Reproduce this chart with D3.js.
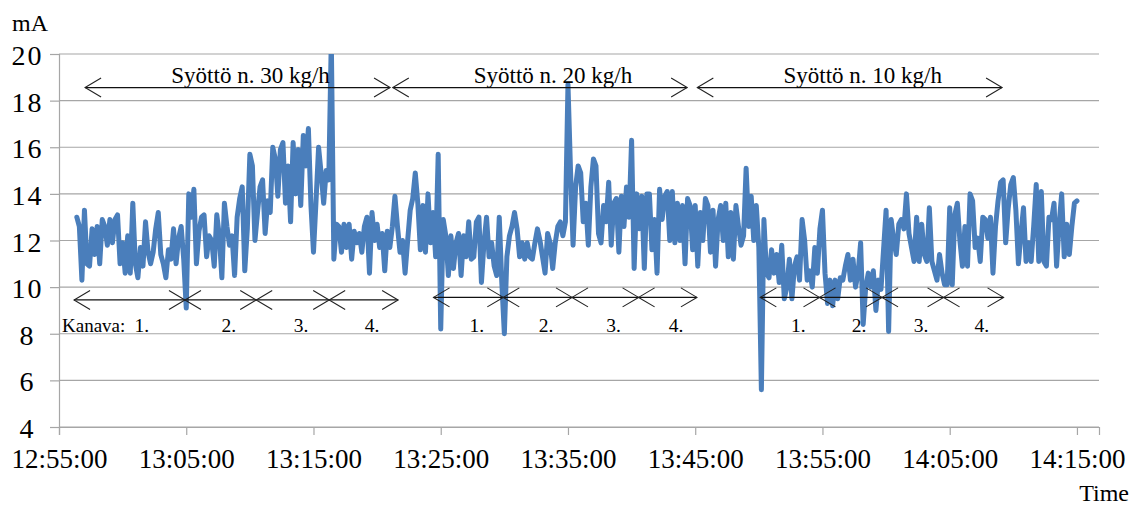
<!DOCTYPE html>
<html>
<head>
<meta charset="utf-8">
<script src="https://cdn.jsdelivr.net/npm/d3@7"></script>
<style>
  body { margin: 0; background: #fff; }
  svg { display: block; }
  text { font-family: "Liberation Serif", "Times New Roman", serif; fill: #000; }
</style>
</head>
<body>
<svg id="chart" width="1138" height="506"></svg>
<script>
// Logged sensor current (mA), one sample every 12 s
const sampleStart = "12:56:24";
const sampleStepSeconds = 12;
const currentMA = [
  // 12:56 - 13:09
  13.0, 12.6, 10.3, 13.3, 11.0, 10.9, 12.5, 11.4, 12.6, 11.0,
  12.9, 12.6, 11.8, 12.9, 11.9, 12.9, 13.1, 11.0, 11.9, 10.6,
  12.2, 10.6, 13.6, 11.0, 10.4, 11.7, 10.9, 12.8, 11.5, 11.0,
  11.5, 12.5, 13.2, 11.4, 11.0, 10.4, 11.6, 11.2, 12.5, 11.0,
  12.1, 12.6, 11.2, 9.1, 14.0, 13.0, 14.2, 11.0, 12.4, 13.0,
  13.1, 11.3, 12.2, 12.0, 10.9, 13.1, 12.2, 10.4, 13.6, 12.6,
  11.8,
  // 13:08 - 13:22
  12.2, 10.5, 13.0, 13.8, 14.3, 10.7, 12.5, 15.7, 15.2, 12.0,
  13.2, 14.3, 14.6, 12.3, 13.7, 13.2, 16.0, 15.5, 13.9, 15.9,
  16.2, 13.6, 15.2, 12.8, 16.2, 14.0, 15.9, 13.5, 16.5, 15.2,
  16.8, 13.5, 11.5, 13.7, 16.0, 14.9, 13.6, 15.0, 14.6, 20.6,
  11.2, 12.7, 12.6, 11.5, 12.7, 11.7, 12.7, 11.2, 12.4, 11.9,
  12.3, 11.5, 12.6, 13.0, 10.6, 13.2, 12.0, 12.7, 11.7, 12.3,
  10.7, 12.4, 11.7, 12.6, 13.9, 12.6, 11.5, 12.0,
  // 13:22 - 13:35
  10.6, 12.0, 13.3, 13.8, 14.9, 13.6, 11.6, 13.5, 11.5, 14.0,
  11.9, 13.2, 11.3, 15.7, 8.2, 12.9, 12.2, 10.5, 12.2, 10.8,
  11.9, 12.3, 10.5, 12.2, 11.3, 12.8, 11.2, 11.3, 12.8, 13.0,
  10.2, 11.9, 13.0, 11.3, 11.9, 10.9, 10.5, 13.0, 10.2, 8.0,
  11.3, 12.2, 12.6, 13.2, 12.5, 11.3, 11.9, 11.2, 11.9, 11.3,
  11.2, 11.9, 12.5, 12.0, 11.3, 10.6, 12.3, 11.9, 10.8, 11.9,
  12.6, 12.8, 12.2, 12.8, 18.7, 15.0,
  // 13:35 - 13:49
  11.8, 14.3, 15.2, 14.9, 12.8, 13.6, 11.8, 14.3, 15.5, 15.2,
  12.3, 11.9, 13.5, 12.8, 14.5, 11.8, 13.6, 13.8, 11.5, 13.9,
  12.6, 14.3, 13.0, 16.3, 10.8, 14.0, 12.5, 13.9, 10.8, 14.0,
  14.0, 11.6, 12.9, 10.6, 14.2, 12.9, 13.9, 14.1, 12.0, 14.1,
  11.9, 13.6, 12.0, 13.5, 11.0, 13.8, 13.5, 11.6, 13.5, 10.9,
  13.2, 12.0, 13.8, 13.5, 11.5, 13.3, 10.9, 12.9, 13.5, 12.0,
  13.6, 11.3, 13.2, 11.2, 13.5, 12.6, 11.8,
  // 13:49 - 14:02
  12.2, 15.1, 12.6, 13.9, 12.0, 13.5, 11.7, 5.6,
  12.9, 10.6, 10.4, 11.6, 10.6, 11.4, 10.2, 11.8, 9.5, 10.0,
  11.2, 9.5, 10.9, 11.3, 10.3, 12.9, 12.0, 10.3, 10.7, 10.0,
  11.7, 10.6, 12.5, 13.3, 10.6, 9.3, 10.3, 9.2, 10.3, 9.5,
  10.4, 10.3, 10.9, 11.4, 10.3, 11.2, 10.0, 10.6, 11.9, 8.4,
  10.0, 10.6, 10.0, 10.7, 9.0, 10.3, 9.9, 11.6, 13.3, 8.1,
  12.9, 12.0, 11.4, 12.7, 12.9, 12.5, 14.0, 12.3, 11.7,
  // 14:02 - 14:15
  11.1, 13.0, 11.1, 12.7, 11.4, 11.1, 13.4, 11.1, 10.7, 10.3,
  11.4, 10.6, 10.1, 10.1, 13.4, 10.1, 13.1, 13.6, 12.0, 10.9,
  12.6, 10.9, 14.0, 13.7, 11.7, 12.1, 11.1, 13.0, 12.9, 12.1,
  13.0, 10.6, 12.6, 13.7, 14.5, 14.6, 11.9, 13.4, 14.4, 14.7,
  13.3, 11.0, 12.3, 13.4, 11.1, 11.9, 11.1, 12.6, 14.4, 11.1,
  14.1, 11.1, 10.9, 13.0, 12.9, 13.6, 10.9, 12.7, 14.0, 11.3,
  12.7, 11.4, 12.6, 13.6, 13.7
];

const yTicks = [4, 6, 8, 10, 12, 14, 16, 18, 20];
const xTickLabels = ["12:55:00", "13:05:00", "13:15:00", "13:25:00", "13:35:00",
                     "13:45:00", "13:55:00", "14:05:00", "14:15:00"];
const axisEnd = "14:16:44";

// Feed-rate periods
const feedLabels = ["Syöttö n. 30 kg/h", "Syöttö n. 20 kg/h", "Syöttö n. 10 kg/h"];
const feedStarts = ["12:57:03", "13:21:14", "13:45:10"];
const feedEnds   = ["13:21:01", "13:44:22", "14:09:07"];

// Channel periods within each feed rate (boundaries)
const channelNames = ["1.", "2.", "3.", "4."];
const channelBounds = [
  ["12:56:11", "13:04:54", "13:10:30", "13:16:14", "13:21:39"],
  ["13:24:26", "13:29:55", "13:35:19", "13:40:33", "13:45:08"],
  ["13:50:07", "13:54:46", "13:59:41", "14:04:31", "14:09:14"]
];

const serif = "'Liberation Serif', 'Times New Roman', serif";
const parseTime = d3.timeParse("%H:%M:%S");
const svg = d3.select("#chart");

const plotLeft = 59, plotRight = 1099, plotTop = 54, plotBottom = 427;
const x = d3.scaleTime()
  .domain([parseTime(xTickLabels[0]), parseTime(axisEnd)])
  .range([plotLeft, plotRight]);
const y = d3.scaleLinear().domain([4, 20]).range([plotBottom, plotTop]);

const gridColor = "#a6a6a6";

// horizontal gridlines
svg.append("g")
  .selectAll("line")
  .data(yTicks)
  .join("line")
  .attr("x1", plotLeft).attr("x2", plotRight)
  .attr("y1", d => y(d)).attr("y2", d => y(d))
  .attr("stroke", gridColor).attr("stroke-width", 1.2);

// y axis
const yAxis = svg.append("g")
  .attr("transform", `translate(${plotLeft},0)`)
  .call(d3.axisLeft(y).tickValues(yTicks).tickSize(9).tickFormat(d3.format("d")))
  .attr("font-family", serif)
  .attr("font-size", 28);
yAxis.select(".domain").attr("stroke", gridColor).attr("stroke-width", 1.2);
yAxis.selectAll(".tick line").attr("stroke", gridColor).attr("stroke-width", 1.2);
yAxis.selectAll(".tick text")
  .attr("x", -31.5).attr("dy", null).attr("y", 10.5)
  .attr("text-anchor", "middle")
  .attr("fill", "#000")
  .style("letter-spacing", "2px");

// x axis
const xAxis = svg.append("g")
  .attr("transform", `translate(0,${plotBottom})`)
  .call(d3.axisBottom(x)
    .tickValues(xTickLabels.map(parseTime))
    .tickSize(8)
    .tickFormat(d3.timeFormat("%H:%M:%S")))
  .attr("font-family", serif)
  .attr("font-size", 27);
xAxis.select(".domain").attr("stroke", gridColor).attr("stroke-width", 1.2);
xAxis.selectAll(".tick line").attr("stroke", gridColor).attr("stroke-width", 1.2);
xAxis.selectAll(".tick text")
  .attr("y", 41).attr("dy", null)
  .attr("fill", "#000");

// measured series
const t0 = parseTime(sampleStart);
const series = currentMA.map((v, i) => ({ t: new Date(t0.getTime() + i * sampleStepSeconds * 1000), v }));

svg.append("clipPath").attr("id", "plotClip")
  .append("rect").attr("x", plotLeft).attr("y", plotTop)
  .attr("width", plotRight - plotLeft).attr("height", plotBottom - plotTop);

svg.append("path")
  .datum(series)
  .attr("clip-path", "url(#plotClip)")
  .attr("fill", "none")
  .attr("stroke", "#4a7ebb")
  .attr("stroke-width", 5)
  .attr("stroke-linejoin", "round")
  .attr("stroke-linecap", "round")
  .attr("d", d3.line().x(d => x(d.t)).y(d => y(d.v)));

// double-headed arrow helper
const notes = svg.append("g");
function arrow(x1, x2, yy) {
  const L = 16, b = 9.5;
  notes.append("line")
    .attr("x1", x1).attr("x2", x2).attr("y1", yy).attr("y2", yy)
    .attr("stroke", "#111").attr("stroke-width", 1.3);
  notes.append("path")
    .attr("d", `M${x1 + L},${yy - b}L${x1},${yy}L${x1 + L},${yy + b}` +
               `M${x2 - L},${yy - b}L${x2},${yy}L${x2 - L},${yy + b}`)
    .attr("fill", "none").attr("stroke", "#222").attr("stroke-width", 1.1);
}

// feed-rate arrows
const feedY = y(18.56);
feedLabels.forEach((label, i) => {
  const x1 = x(parseTime(feedStarts[i])), x2 = x(parseTime(feedEnds[i]));
  arrow(x1, x2, feedY);
  notes.append("text")
    .attr("x", (x1 + x2) / 2 + 13).attr("y", feedY - 4.5)
    .attr("text-anchor", "middle")
    .style("font-size", "23px")
    .text(label);
});

// channel arrows
const channelY = [y(9.45), y(9.56), y(9.56)];
channelBounds.forEach((bounds, g) => {
  for (let k = 0; k < channelNames.length; k++) {
    const x1 = x(parseTime(bounds[k])), x2 = x(parseTime(bounds[k + 1]));
    arrow(x1, x2, channelY[g]);
    notes.append("text")
      .attr("x", (x1 + x2) / 2 + (g === 0 && k === 0 ? 5 : 1)).attr("y", 332)
      .attr("text-anchor", "start")
      .style("font-size", "19.5px")
      .text(channelNames[k]);
  }
});
notes.append("text")
  .attr("x", 62).attr("y", 332)
  .style("font-size", "19px")
  .text("Kanava:");

// axis titles
svg.append("text").attr("x", 12).attr("y", 31)
  .style("font-size", "24px").text("mA");
svg.append("text").attr("x", 1129).attr("y", 501)
  .attr("text-anchor", "end")
  .style("font-size", "24px").text("Time");
</script>
</body>
</html>
